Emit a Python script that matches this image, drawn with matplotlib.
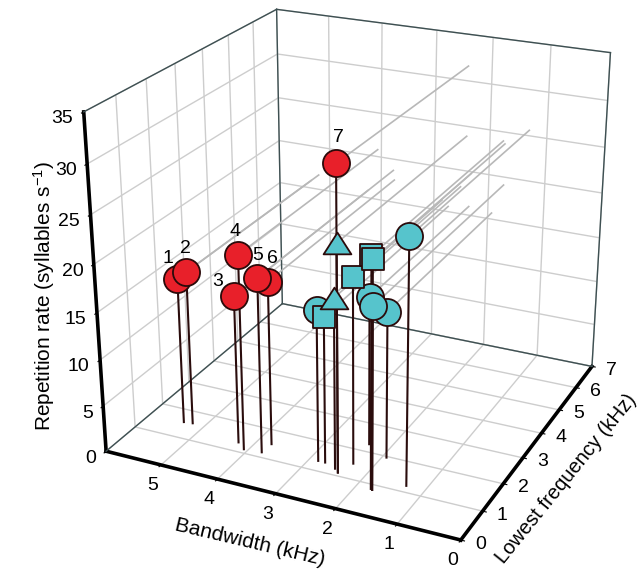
import matplotlib
matplotlib.use("Agg")
import matplotlib.pyplot as plt
from matplotlib.transforms import offset_copy
from matplotlib.path import Path
import numpy as np

plt.rcParams['font.family'] = ['Liberation Sans', 'DejaVu Sans']
plt.rcParams['mathtext.fontset'] = 'custom'
plt.rcParams['mathtext.rm'] = 'Liberation Sans'
plt.rcParams['mathtext.it'] = 'Liberation Sans:italic'
plt.rcParams['mathtext.default'] = 'regular'

# ---- data ----
red_bw = [5.37, 5.22, 4.25, 4.07, 3.77, 3.75, 2.42]
red_lf = [1.55, 1.58, 1.31, 1.13, 1.17, 1.51, 1.11]
red_rate = [15.9, 16.7, 15.9, 20.8, 18.7, 17.6, 31.6]
red_labels = ['1', '2', '3', '4', '5', '6', '7']

circ_bw = [1.31, 1.93, 2.35, 1.73, 2.85]
circ_lf = [1.21, 1.96, 2.27, 0.83, 1.33]
circ_rate = [25.6, 15.7, 16.0, 19.1, 16.2]

sq_bw = [1.73, 1.76, 2.32, 2.73]
sq_lf = [0.83, 0.85, 1.51, 1.33]
sq_rate = [23.7, 24.0, 19.8, 15.6]

tri_bw = [2.42, 2.51]
tri_lf = [1.11, 1.21]
tri_rate = [23.9, 18.1]

lf_ticks = [0, 1, 2, 3, 4, 5, 6, 7]
bw_ticks = [0, 1, 2, 3, 4, 5]
rate_ticks = [0, 5, 10, 15, 20, 25, 30, 35]
LF_MAX, BW_MAX, RATE_MAX = 7, 6, 35

# label offsets in points (style)
lab_off = [(-6.5, 14.5), (-0.7, 17.0), (-12, 11), (-2, 16.5), (0, 16.5), (3.6, 16.5), (1.4, 18.5)]

RED = '#e8202a'
CYAN = '#56c4cc'
EDGE = '#2b0a0a'
STEM = '#2a0c0c'
PROJ = '#b8b8b8'
BOX = '#3e5052'

# wide, flat triangle marker like the reference
TRI = Path([(0, 0.78), (-1, -0.78), (1, -0.78), (0, 0.78)],
           [Path.MOVETO, Path.LINETO, Path.LINETO, Path.CLOSEPOLY])

W, H = 642, 573
fig = plt.figure(figsize=(W / 100, H / 100), dpi=100)
ax = fig.add_axes([31.5 / W, 28.4 / H, 1.0, 1.0], projection='3d')
ax.set_proj_type('persp', focal_length=0.567)
ax.view_init(elev=23.43, azim=-154.95)
ax.set_box_aspect((1.0, 0.998, 0.934), zoom=1.090)
ax.computed_zorder = False

ax.set_xlim(0, LF_MAX)
ax.set_ylim(0, BW_MAX)
ax.set_zlim(0, RATE_MAX)

# thin box edges of the back walls and floor
for xs, ys, zs in [([0, LF_MAX], [BW_MAX, BW_MAX], [RATE_MAX, RATE_MAX]),
                   ([LF_MAX, LF_MAX], [BW_MAX, 0], [RATE_MAX, RATE_MAX]),
                   ([LF_MAX, LF_MAX], [0, 0], [0, RATE_MAX]),
                   ([LF_MAX, LF_MAX], [BW_MAX, BW_MAX], [0, RATE_MAX]),
                   ([0, LF_MAX], [BW_MAX, BW_MAX], [0, 0]),
                   ([LF_MAX, LF_MAX], [BW_MAX, 0], [0, 0])]:
    ax.plot(xs, ys, zs, color=BOX, lw=1.0, zorder=0.5)

groups = [
    (red_lf, red_bw, red_rate, 'o', RED, 380),
    (circ_lf, circ_bw, circ_rate, 'o', CYAN, 380),
    (sq_lf, sq_bw, sq_rate, 's', CYAN, 250),
    (tri_lf, tri_bw, tri_rate, TRI, CYAN, 400),
]

for lf, bw, rt, m, c, s in groups:
    for xi, yi, zi in zip(lf, bw, rt):
        ax.plot([xi, LF_MAX], [yi, yi], [zi, zi], color=PROJ, lw=1.2, zorder=1)
for lf, bw, rt, m, c, s in groups:
    for xi, yi, zi in zip(lf, bw, rt):
        ax.plot([xi, xi], [yi, yi], [0, zi], color=STEM, lw=1.5, zorder=2)
for lf, bw, rt, m, c, s in groups:
    ax.scatter(lf, bw, rt, marker=m, s=s, c=c, edgecolors=EDGE, linewidths=1.3,
               depthshade=False, zorder=3)

ax.set_xticks(lf_ticks)
ax.set_yticks(bw_ticks)
ax.set_zticks(rate_ticks)

for axis in (ax.xaxis, ax.yaxis, ax.zaxis):
    axis.set_tick_params(labelleft=False, labelbottom=False, labelright=False, labeltop=False)
    axis.label.set_visible(False)
    axis.offsetText.set_visible(False)
    axis.pane.set_facecolor('white')
    axis.pane.set_edgecolor('white')
    axis._axinfo['grid']['color'] = '#cdcdcd'
    axis._axinfo['grid']['linewidth'] = 1.0
    axis.line.set_linewidth(2.6)
    axis.line.set_color('black')
    axis._axinfo['tick']['inward_factor'] = 0.12
    axis._axinfo['tick']['outward_factor'] = 0.0

# settle the 3D projection, then place texts at the projected positions
fig.canvas.draw()


def screen(x, y, z):
    v = ax.M @ np.array([x, y, z, 1.0])
    px, py = ax.transData.transform((v[0] / v[3], v[1] / v[3]))
    return px / W, py / H


def put(x, y, z, s, ox, oy, **kw):
    fx, fy = screen(x, y, z)
    tr = offset_copy(fig.transFigure, fig=fig, x=ox, y=oy, units='points')
    fig.text(fx, fy, s, transform=tr, **kw)


for xi, yi, zi, lab, (ox, oy) in zip(red_lf, red_bw, red_rate, red_labels, lab_off):
    put(xi, yi, zi, lab, ox, oy, ha='center', va='center', fontsize=14)

FS_T = 14
for t in lf_ticks:
    put(t, 0, 0, str(t), 14.2, -2.9, ha='center', va='center', fontsize=FS_T)
for t in bw_ticks:
    put(0, t, 0, str(t), -5.8, -14.8, ha='center', va='center', fontsize=FS_T)
for t in rate_ticks:
    put(0, BW_MAX, t, str(t), -7.5, -5.0, ha='right', va='center', fontsize=FS_T)

FS_L = 15
fig.text(250 / W, 1 - 542 / H, 'Bandwidth (kHz)', rotation=-13.3, ha='center', va='center',
         fontsize=FS_L, rotation_mode='anchor')
fig.text(566 / W, 1 - 479 / H, 'Lowest frequency (kHz)', rotation=51, ha='center', va='center',
         fontsize=14.5, rotation_mode='anchor')
fig.text(44 / W, 1 - 296 / H, 'Repetition rate (syllables s$^{-1}$)', rotation=90, ha='center',
         va='center', fontsize=FS_L, rotation_mode='anchor')

fig.savefig('out.png', dpi=100)
